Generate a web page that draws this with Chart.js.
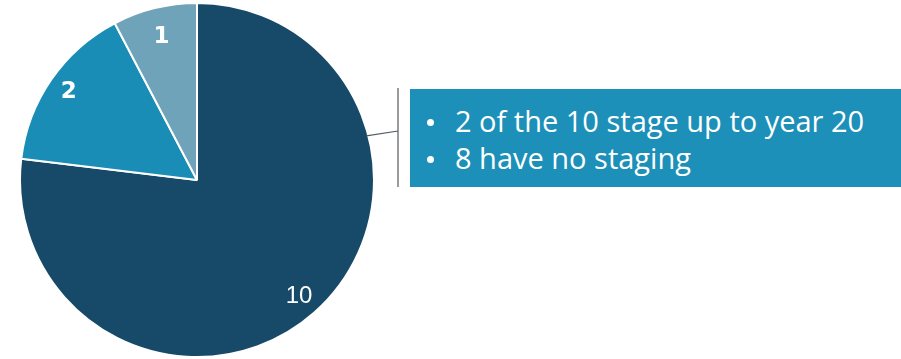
<!DOCTYPE html>
<html>
<head>
<meta charset="utf-8">
<script src="https://cdn.jsdelivr.net/npm/chart.js@4.4.1/dist/chart.umd.min.js"></script>
<style>
  html, body { margin: 0; padding: 0; background: #fff; }
  #wrap { position: relative; width: 901px; height: 359px; }
  #pie { position: absolute; left: 0; top: 0; }
  #note {
    position: absolute; left: 410px; top: 89px; width: 491px; height: 98px;
    background: #1c90b8; color: #fff;
    font-family: "Open Sans", sans-serif; font-size: 29px; line-height: 37px;
    box-sizing: border-box; padding: 13px 0 0 17px;
  }
  #note ul { margin: 0; padding: 0; list-style: none; }
  #note li { white-space: nowrap; }
  #note li::before {
    content: ""; display: inline-block; width: 7px; height: 7px;
    border-radius: 50%; background: #fff; margin-right: 21px; vertical-align: 6px;
  }
</style>
</head>
<body>
<div id="wrap">
  <canvas id="pie" width="901" height="359"></canvas>
  <div id="note">
    <ul>
      <li>2 of the 10 stage up to year 20</li>
      <li>8 have no staging</li>
    </ul>
  </div>
</div>
<script>
var labels = ["10", "2", "1"];
var values = [10, 2, 1];
var colors = ["#174a68", "#1a8db6", "#6fa3ba"];
var labelRadius = [0.87, 0.88, 0.84];

var pie = document.getElementById("pie");

// writes each slice value inside its slice
var sliceLabels = {
    id: "sliceLabels",
    afterDatasetsDraw(chart) {
        var ctx = chart.ctx;
        var meta = chart.getDatasetMeta(0);
        ctx.save();
        ctx.fillStyle = "#ffffff";
        ctx.textAlign = "center";
        ctx.textBaseline = "middle";
        meta.data.forEach((arc, i) => {
            var mid = (arc.startAngle + arc.endAngle) / 2;
            var r = arc.outerRadius * labelRadius[i];
            var x = arc.x + Math.cos(mid) * r;
            var y = arc.y + Math.sin(mid) * r;
            ctx.font = i === 0 ? "24px 'Liberation Sans'" : "bold 23px 'DejaVu Sans'";
            ctx.fillText(labels[i], x, y + 1);
        });
        ctx.restore();
    },
};

// bracket and leader line to the note box
var leader = {
    id: "leader",
    afterDraw(chart) {
        var ctx = chart.ctx;
        var arc = chart.getDatasetMeta(0).data[0];
        var a = -0.255;
        var sx = arc.x + Math.cos(a) * (arc.outerRadius - 2);
        var sy = arc.y + Math.sin(a) * (arc.outerRadius - 2);
        ctx.save();
        ctx.strokeStyle = "#555a60";
        ctx.lineWidth = 1.2;
        ctx.beginPath();
        ctx.moveTo(sx, sy);
        ctx.lineTo(398, 131);
        ctx.moveTo(398, 88);
        ctx.lineTo(398, 187);
        ctx.stroke();
        ctx.restore();
    },
};

new Chart(pie, {
    type: "pie",
    data: {
        labels: labels,
        datasets: [
            {
                data: values,
                backgroundColor: colors,
                borderColor: "#ffffff",
                borderWidth: 2,
            },
        ],
    },
    options: {
        responsive: false,
        animation: false,
        layout: {
            padding: { top: 2, bottom: 1, left: 0, right: 507 },
        },
        plugins: {
            legend: { display: false },
            tooltip: { enabled: false },
        },
    },
    plugins: [sliceLabels, leader],
});
</script>
</body>
</html>
